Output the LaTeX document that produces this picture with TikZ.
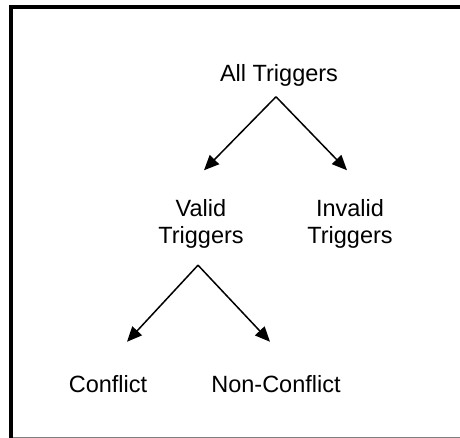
\documentclass[tikz,border=0pt]{standalone}
\usepackage{fontspec}
\setmainfont{Liberation Sans}
\usepackage{xcolor}
\usepackage{tikz}
\usetikzlibrary{arrows.meta,positioning}

\begin{document}
\begin{tikzpicture}[
  x=1pt, y=-1pt,
  lbl/.style ={inner sep=0pt, anchor=base, align=center,
               font=\fontsize{23.5}{27}\selectfont},
  arr/.style ={-{Triangle[length=15pt,width=13pt]}, line width=1.5pt},
  frame/.style={line width=4pt}
]
\useasboundingbox (0,0) rectangle (460,438);

%% ── Frame ────────────────────────────────────────────────────────────
\draw[frame] (11.3,438) -- (11.3,7.2) -- (460,7.2);
\draw[gray, line width=1.4pt] (13,437.3) -- (460,437.3);

%% ── Tree labels ──────────────────────────────────────────────────────
\node[lbl] (all)     at (279, 81.7)  {All Triggers};
\node[lbl] (valid)   at (201, 243.5) {Valid\\Triggers};
\node[lbl] (invalid) at (350, 243.5) {Invalid\\Triggers};
\node[lbl] (conf)    at (108, 392)   {Conflict};
\node[lbl] (nonconf) at (276, 392)   {Non-Conflict};

%% ── Arrows ───────────────────────────────────────────────────────────
\draw[arr] ([xshift=-3pt,yshift=-10pt]all.south) -- ([xshift=3pt,yshift=29pt]valid.north);
\draw[arr] ([xshift=-3pt,yshift=-10pt]all.south) -- ([xshift=-3pt,yshift=29pt]invalid.north);

\draw[arr] ([xshift=-3pt,yshift=-16.6pt]valid.south) -- ([xshift=19pt,yshift=33pt]conf.north);
\draw[arr] ([xshift=-3pt,yshift=-16.6pt]valid.south) -- ([xshift=-6pt,yshift=33pt]nonconf.north);

\end{tikzpicture}
\end{document}
